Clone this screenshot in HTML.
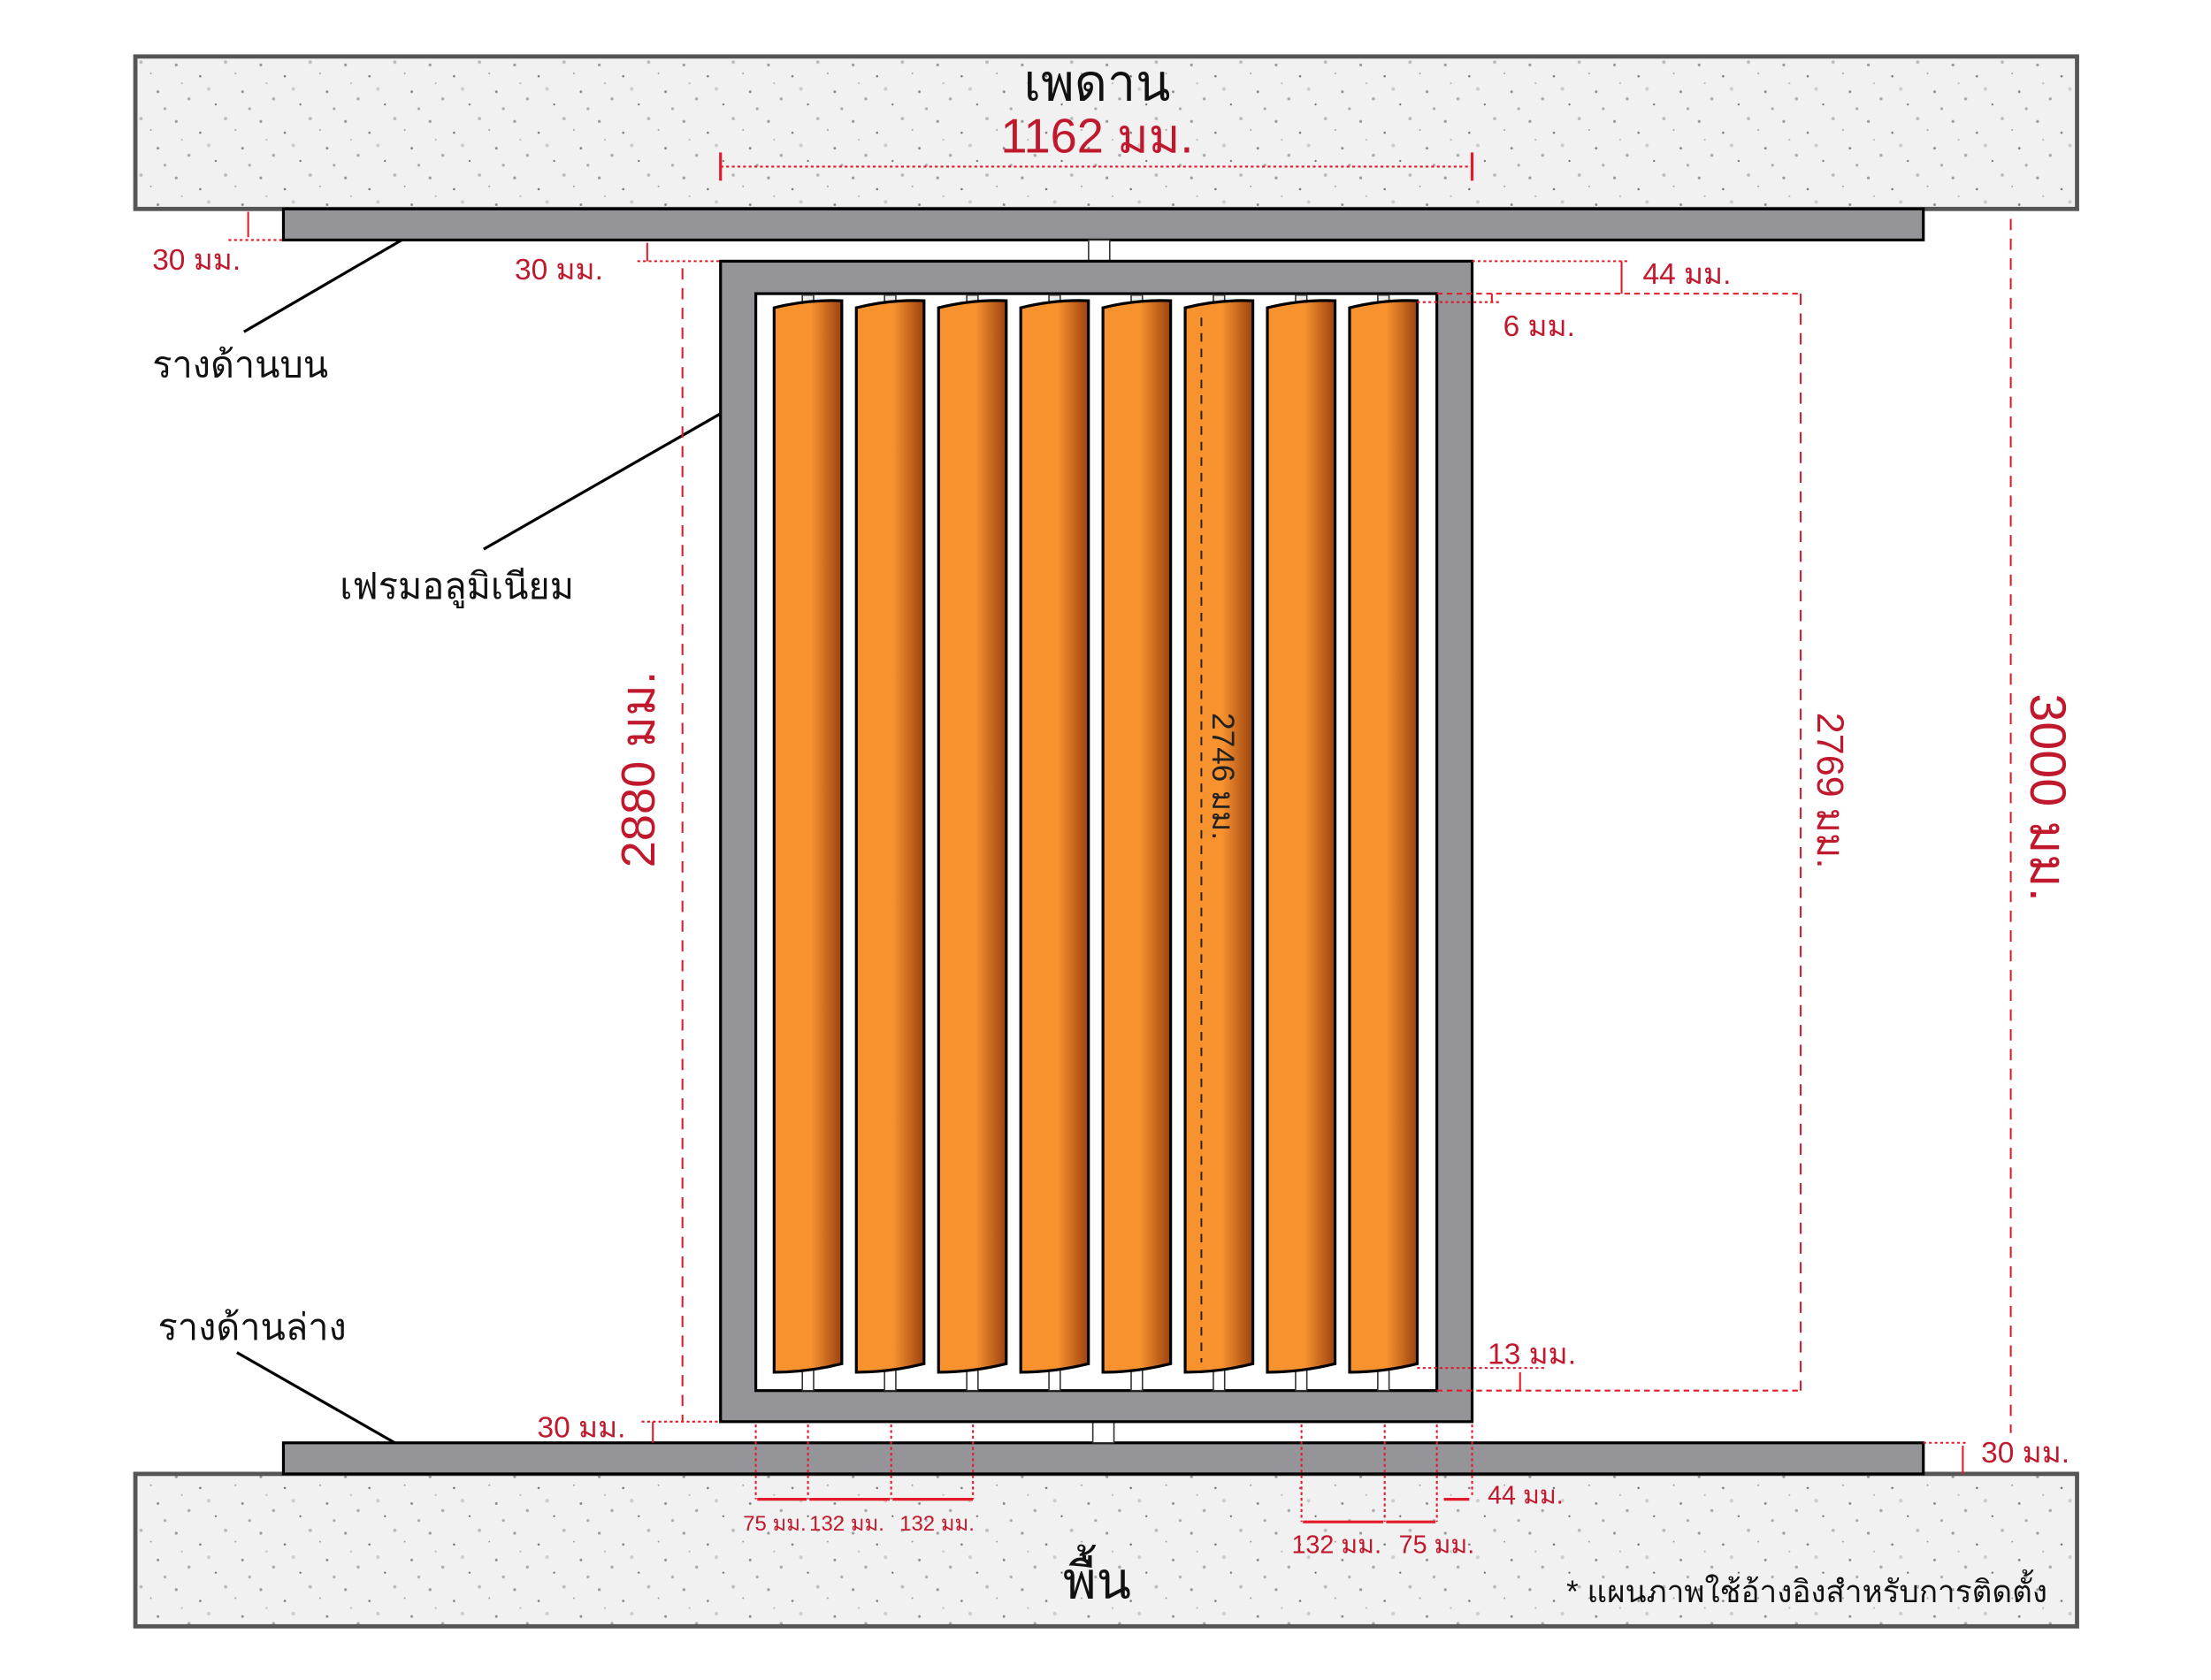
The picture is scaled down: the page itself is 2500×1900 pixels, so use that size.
<!DOCTYPE html>
<html><head><meta charset="utf-8"><style>
html,body{margin:0;padding:0;background:#fff;}
svg{display:block;}
text{font-family:"Liberation Sans","Noto Sans CJK SC",sans-serif;}
</style></head><body>
<svg width="2500" height="1900" viewBox="0 0 1568 1190" preserveAspectRatio="none" xmlns="http://www.w3.org/2000/svg">
<defs>
<linearGradient id="sl" x1="0" x2="1" y1="0" y2="0">
<stop offset="0" stop-color="#f7922f"/><stop offset="0.55" stop-color="#f7922f"/><stop offset="1" stop-color="#9c420f"/>
</linearGradient>
<pattern id="gr" width="60" height="40" patternUnits="userSpaceOnUse">
<rect width="60" height="40" fill="#f1f1f1"/>
<circle cx="5" cy="6" r="1" fill="#999"/><circle cx="22" cy="14" r="0.8" fill="#777"/>
<circle cx="40" cy="4" r="1.2" fill="#bbb"/><circle cx="52" cy="25" r="0.9" fill="#888"/>
<circle cx="14" cy="30" r="1.1" fill="#aaa"/><circle cx="33" cy="34" r="0.7" fill="#666"/>
<circle cx="47" cy="12" r="0.6" fill="#999"/><circle cx="28" cy="23" r="1.3" fill="#ccc"/>
<circle cx="9" cy="19" r="0.7" fill="#bbb"/><circle cx="57" cy="37" r="1" fill="#aaa"/>
</pattern>
</defs>
<!-- ceiling & floor -->
<rect x="96" y="40" width="1377" height="108" fill="url(#gr)" stroke="#555" stroke-width="3"/>
<rect x="96" y="1044" width="1377" height="108" fill="url(#gr)" stroke="#555" stroke-width="3"/>
<!-- rails -->
<rect x="201" y="148" width="1163" height="22" fill="#959498" stroke="#000" stroke-width="2"/>
<rect x="201" y="1022" width="1163" height="22" fill="#959498" stroke="#000" stroke-width="2"/>
<!-- connectors -->
<rect x="772" y="170" width="15" height="15" fill="#fff" stroke="#333" stroke-width="1"/>
<rect x="775" y="1007" width="15" height="15" fill="#fff" stroke="#333" stroke-width="1"/>
<!-- frame -->
<rect x="511" y="185" width="533" height="822" fill="#959498" stroke="#000" stroke-width="2"/>
<rect x="536" y="208" width="483" height="777" fill="#fff" stroke="#000" stroke-width="2"/>
<!-- slats -->
<g stroke="#000" stroke-width="2">
<g id="s"><rect x="569" y="209" width="8" height="7" fill="#eee" stroke="#333" stroke-width="1"/><rect x="569" y="970" width="8" height="15" fill="#fff" stroke="#333" stroke-width="1"/>
<path d="M549 218 Q573 212 597 213 L597 966 Q573 972 549 972 Z" fill="url(#sl)"/></g>
<use href="#s" x="58.3"/><use href="#s" x="116.6"/><use href="#s" x="174.9"/><use href="#s" x="233.2"/><use href="#s" x="291.5"/><use href="#s" x="349.8"/><use href="#s" x="408.1"/>
</g>
<line x1="852" y1="225" x2="852" y2="965" stroke="#222" stroke-width="1.2" stroke-dasharray="6,5"/>
<text transform="translate(860,550) rotate(90)" text-anchor="middle" font-size="22" fill="#222">2746 มม.</text>
<!-- leaders -->
<g stroke="#000" stroke-width="2"><line x1="173" y1="235" x2="285" y2="170"/><line x1="343" y1="389" x2="511" y2="293"/><line x1="168" y1="958" x2="280" y2="1022"/></g>
<g font-size="26" fill="#111">
<text x="108" y="267">รางด้านบน</text><text x="241" y="424">เฟรมอลูมิเนียม</text><text x="112" y="949">รางด้านล่าง</text></g>
<text x="778" y="71" text-anchor="middle" font-size="36" fill="#111">เพดาน</text>
<text x="778" y="1132" text-anchor="middle" font-size="36" fill="#111">พื้น</text>
<text x="1452" y="1135" text-anchor="end" font-size="22" fill="#111">* แผนภาพใช้อ้างอิงสำหรับการติดตั้ง</text>
<!-- red dims -->
<g stroke="#e21b2a" stroke-width="1.3" fill="none">
<line x1="511" y1="118" x2="1044" y2="118" stroke-dasharray="2,2"/>
<line x1="511" y1="108" x2="511" y2="128" stroke-width="2"/><line x1="1044" y1="108" x2="1044" y2="128" stroke-width="2"/>
<line x1="176" y1="150" x2="176" y2="168"/><line x1="162" y1="170" x2="201" y2="170" stroke-dasharray="2,2"/>
<line x1="459" y1="172" x2="459" y2="185"/><line x1="452" y1="185" x2="511" y2="185" stroke-dasharray="2,2"/>
<line x1="484" y1="190" x2="484" y2="1007" stroke-dasharray="8,6"/>
<line x1="1044" y1="185" x2="1155" y2="185" stroke-dasharray="2,2"/>
<line x1="1150" y1="185" x2="1150" y2="208"/>
<line x1="1019" y1="208" x2="1277" y2="208" stroke-dasharray="4,3"/>
<line x1="1277" y1="208" x2="1277" y2="985" stroke-dasharray="8,6"/>
<line x1="1019" y1="985" x2="1277" y2="985" stroke-dasharray="4,3"/>
<line x1="1005" y1="214" x2="1065" y2="214" stroke-dasharray="2,2"/><line x1="1058" y1="208" x2="1058" y2="214"/>
<line x1="1005" y1="969" x2="1095" y2="969" stroke-dasharray="2,2"/><line x1="1078" y1="972" x2="1078" y2="985"/>
<line x1="1426" y1="155" x2="1426" y2="1015" stroke-dasharray="8,6"/>
<line x1="1364" y1="1022" x2="1395" y2="1022" stroke-dasharray="2,2"/><line x1="1392" y1="1024" x2="1392" y2="1044"/>
<line x1="455" y1="1007" x2="511" y2="1007" stroke-dasharray="2,2"/><line x1="463" y1="1007" x2="463" y2="1022"/>
<g stroke-dasharray="2,2"><line x1="536" y1="1009" x2="536" y2="1062"/><line x1="573" y1="1009" x2="573" y2="1062"/><line x1="632" y1="1009" x2="632" y2="1062"/><line x1="690" y1="1009" x2="690" y2="1062"/>
<line x1="923" y1="1009" x2="923" y2="1078"/><line x1="982" y1="1009" x2="982" y2="1078"/><line x1="1019" y1="1009" x2="1019" y2="1078"/><line x1="1044" y1="1009" x2="1044" y2="1060"/></g>
<g stroke-width="2"><line x1="537" y1="1062" x2="572" y2="1062"/><line x1="574" y1="1062" x2="631" y2="1062"/><line x1="633" y1="1062" x2="690" y2="1062"/>
<line x1="924" y1="1078" x2="981" y2="1078"/><line x1="983" y1="1078" x2="1018" y2="1078"/><line x1="1024" y1="1062" x2="1042" y2="1062"/></g>
</g>
<g fill="#c0192d">
<text x="778" y="108" text-anchor="middle" font-size="34">1162 มม.</text>
<g font-size="21"><text x="108" y="191">30 มม.</text><text x="365" y="198">30 มม.</text><text x="1165" y="201">44 มม.</text><text x="1066" y="238">6 มม.</text>
<text x="1055" y="966">13 มม.</text><text x="381" y="1018">30 มม.</text><text x="1405" y="1036">30 มม.</text></g>
<g font-size="18"><text x="1055" y="1065">44 มม.</text><text x="916" y="1100">132 มม.</text><text x="992" y="1100">75 มม.</text></g>
<g font-size="15"><text x="527" y="1084">75 มม.</text><text x="574" y="1084">132 มม.</text><text x="638" y="1084">132 มม.</text></g>
<text transform="translate(464,545) rotate(-90)" text-anchor="middle" font-size="34">2880 มม.</text>
<text transform="translate(1289,560) rotate(90)" text-anchor="middle" font-size="27">2769 มม.</text>
<text transform="translate(1440,565) rotate(90)" text-anchor="middle" font-size="36">3000 มม.</text>
</g>
</svg>
</body></html>
